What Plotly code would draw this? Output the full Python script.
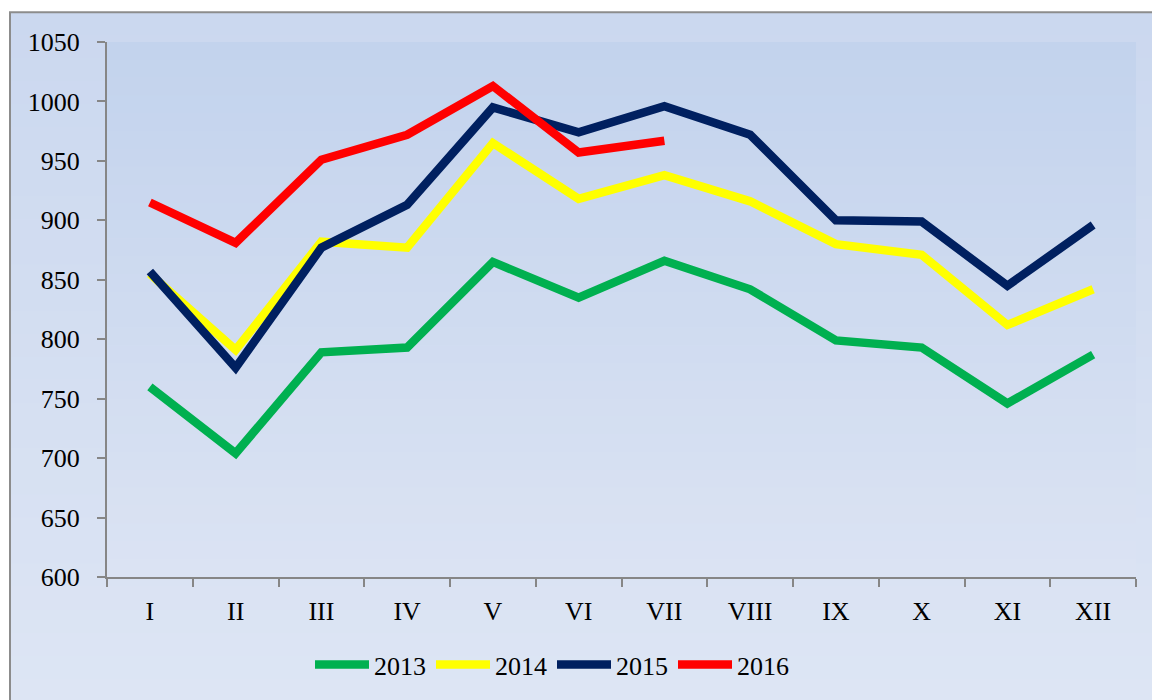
import plotly.graph_objects as go

months = ["I", "II", "III", "IV", "V", "VI", "VII", "VIII", "IX", "X", "XI", "XII"]
v2013 = [760, 704, 789, 793, 865, 835, 866, 842, 799, 793, 746, 787]
v2014 = [855, 791, 882, 877, 965, 918, 938, 916, 880, 871, 812, 842]
v2015 = [857, 776, 877, 913, 995, 974, 996, 972, 900, 899, 845, 896]
v2016 = [915, 881, 951, 972, 1013, 957, 967]

series = [("2013", v2013, "#00b050"), ("2014", v2014, "#ffff00"),
          ("2015", v2015, "#002060"), ("2016", v2016, "#ff0000")]

W, H = 1152, 700
ML, MR, MT, MB = 107, 16, 42, 120
pw, ph = W - ML - MR, H - MT - MB

fig = go.Figure()
for name, vals, col in series:
    fig.add_trace(go.Scatter(x=months[:len(vals)], y=vals, name=name, mode="lines",
                             line=dict(color=col, width=8.5)))

def px2x(px):
    return (px - ML) / pw

def py2y(py):
    return 1 - (py - MT) / ph

def lerp(c1, c2, t):
    return "rgb(%d,%d,%d)" % tuple(round(a + (b - a) * t) for a, b in zip(c1, c2))

shapes = []
n = 30
top_c, bot_c = (203, 216, 239), (221, 229, 244)
y0p, y1p = 12, 705
for i in range(n):
    a = y0p + (y1p - y0p) * i / n
    b = y0p + (y1p - y0p) * (i + 1) / n + 1
    shapes.append(dict(type="rect", xref="paper", yref="paper", layer="below",
                       x0=px2x(10), x1=px2x(1160), y0=py2y(b), y1=py2y(a),
                       line=dict(width=0), fillcolor=lerp(top_c, bot_c, i / (n - 1))))
ptop, pbot = (195, 211, 237), (219, 227, 243)
for i in range(n):
    a = MT + ph * i / n
    b = MT + ph * (i + 1) / n + 0.5
    shapes.append(dict(type="rect", xref="paper", yref="paper", layer="below",
                       x0=0, x1=1, y0=py2y(min(b, MT + ph)), y1=py2y(a),
                       line=dict(width=0), fillcolor=lerp(ptop, pbot, i / (n - 1))))
shapes.append(dict(type="line", xref="paper", yref="paper", x0=px2x(10), x1=px2x(10),
                   y0=py2y(12), y1=py2y(710), line=dict(color="#8c8c8c", width=2)))
shapes.append(dict(type="line", xref="paper", yref="paper", x0=px2x(9), x1=px2x(1160),
                   y0=py2y(12), y1=py2y(12), line=dict(color="#8c8c8c", width=2)))

font = dict(family="'Liberation Serif', 'Times New Roman', serif", size=26, color="black")

fig.update_layout(
    width=W, height=H,
    margin=dict(l=ML, r=MR, t=MT, b=MB),
    paper_bgcolor="white", plot_bgcolor="rgba(0,0,0,0)",
    font=font,
    shapes=shapes,
    showlegend=True,
    legend=dict(orientation="h", x=px2x(552), xanchor="center", y=py2y(668), yanchor="middle",
                font=font, bgcolor="rgba(0,0,0,0)", itemwidth=54, tracegroupgap=0,
                borderwidth=0),
    xaxis=dict(type="category", categoryorder="array", categoryarray=months,
               showgrid=False, showline=True, linecolor="#868686", linewidth=2,
               ticks="outside", tickson="boundaries", ticklen=8, tickcolor="#868686",
               tickwidth=2, tickfont=font, ticklabelstandoff=10, range=[-0.5, 11.5]),
    yaxis=dict(range=[600, 1050], dtick=50, showgrid=False, showline=True,
               linecolor="#868686", linewidth=2, ticks="outside", ticklen=8,
               tickcolor="#868686", tickwidth=2, tickfont=font, zeroline=False,
               ticklabelstandoff=12),
)

fig.write_html("out.html", post_script="document.body.style.margin='0';",
               config={"displayModeBar": False})
